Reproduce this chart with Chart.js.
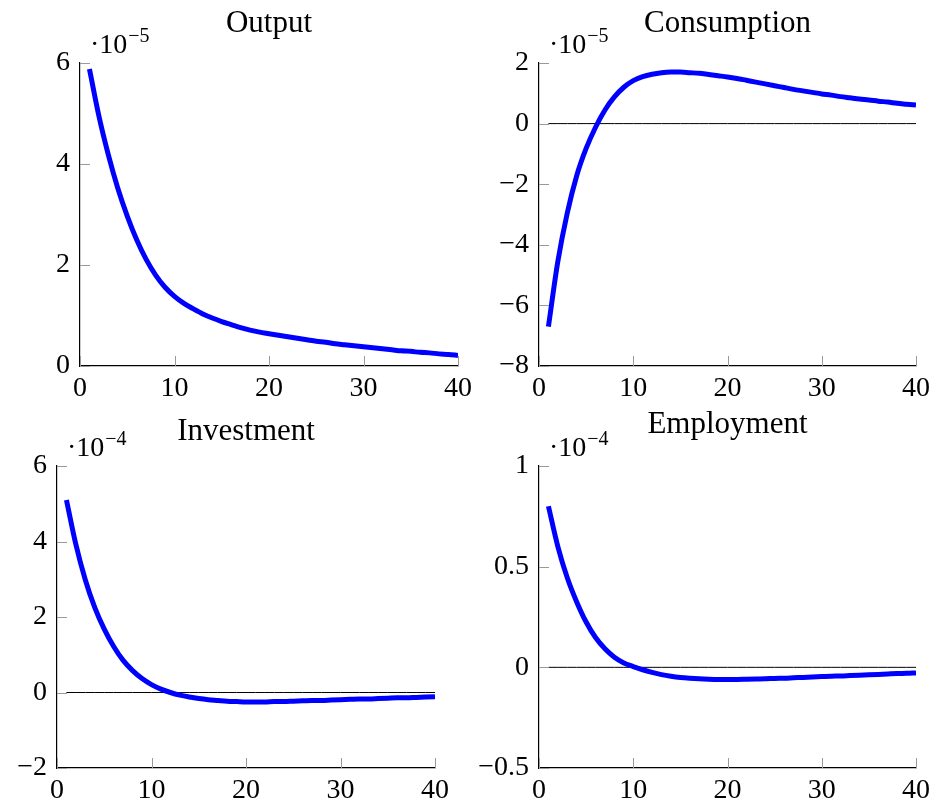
<!DOCTYPE html>
<html>
<head>
<meta charset="utf-8">
<script src="https://cdn.jsdelivr.net/npm/chart.js@4.4.1/dist/chart.umd.min.js"></script>
<style>
  body { margin: 0; background: #fff; width: 936px; height: 804px; overflow: hidden; }
  canvas { position: absolute; }
</style>
</head>
<body>
<canvas id="output"></canvas>
<canvas id="consumption"></canvas>
<canvas id="investment"></canvas>
<canvas id="employment"></canvas>
<script>
const periods = [1, 2, 3, 4, 5, 6, 7, 8, 9, 10, 11, 12, 13, 14, 15, 16, 17, 18, 19, 20,
  21, 22, 23, 24, 25, 26, 27, 28, 29, 30, 31, 32, 33, 34, 35, 36, 37, 38, 39, 40];

// values as shown on each axis (output/consumption in 1e-5, investment/employment in 1e-4)
const output = [5.88, 4.95, 4.18, 3.52, 2.97, 2.50, 2.11, 1.80, 1.56, 1.38,
  1.24, 1.13, 1.03, 0.95, 0.88, 0.82, 0.76, 0.71, 0.67, 0.64,
  0.61, 0.58, 0.55, 0.52, 0.49, 0.47, 0.44, 0.42, 0.40, 0.38,
  0.36, 0.34, 0.32, 0.30, 0.29, 0.27, 0.26, 0.24, 0.23, 0.21];

const consumption = [-6.70, -4.55, -2.95, -1.72, -0.82, -0.12, 0.45, 0.88, 1.20, 1.42,
  1.55, 1.63, 1.68, 1.70, 1.70, 1.68, 1.66, 1.62, 1.58, 1.54,
  1.49, 1.43, 1.37, 1.31, 1.25, 1.19, 1.13, 1.08, 1.03, 0.98,
  0.94, 0.89, 0.85, 0.81, 0.78, 0.74, 0.71, 0.67, 0.64, 0.61];

const investment = [5.10, 3.92, 2.98, 2.25, 1.68, 1.22, 0.85, 0.58, 0.37, 0.21,
  0.09, 0.00, -0.07, -0.12, -0.16, -0.19, -0.21, -0.23, -0.24, -0.25,
  -0.25, -0.25, -0.24, -0.24, -0.23, -0.22, -0.21, -0.21, -0.20, -0.19,
  -0.18, -0.17, -0.17, -0.16, -0.15, -0.14, -0.14, -0.13, -0.12, -0.11];

const employment = [0.80, 0.60, 0.445, 0.325, 0.225, 0.148, 0.092, 0.05, 0.022, 0.004,
  -0.012, -0.025, -0.036, -0.044, -0.050, -0.054, -0.057, -0.059, -0.060, -0.060,
  -0.060, -0.059, -0.058, -0.057, -0.055, -0.054, -0.052, -0.050, -0.048, -0.046,
  -0.044, -0.043, -0.041, -0.039, -0.037, -0.035, -0.033, -0.031, -0.030, -0.028];

const xTicks = { min: 0, max: 40, step: 10 };

const FONT = "'Liberation Serif', 'Times New Roman', serif";

const minus = (value) => value < 0 ? '\u2212' + Math.abs(value) : String(value);

/* pgfplots style: short grey ticks pointing into the plot */
const innerTicks = {
  id: 'innerTicks',
  afterDatasetsDraw(chart) {
    const { ctx, chartArea, scales: { x, y } } = chart;
    ctx.save();
    ctx.strokeStyle = '#9a9a9a';
    ctx.lineWidth = 1;
    ctx.beginPath();
    for (const tick of y.ticks) {
      const py = Math.round(y.getPixelForValue(tick.value)) + 0.5;
      ctx.moveTo(chartArea.left, py);
      ctx.lineTo(chartArea.left + 10, py);
    }
    for (const tick of x.ticks) {
      const px = Math.round(x.getPixelForValue(tick.value)) + 0.5;
      ctx.moveTo(px, chartArea.bottom);
      ctx.lineTo(px, chartArea.bottom - 10);
    }
    ctx.stroke();
    ctx.restore();
  }
};

/* title above the plot and the ·10^n multiplier at the top of the y axis */
const captions = {
  id: 'captions',
  afterDraw(chart, args, opts) {
    const { ctx, chartArea } = chart;
    ctx.save();
    ctx.fillStyle = '#000';
    ctx.textBaseline = 'alphabetic';

    ctx.font = '31px ' + FONT;
    ctx.textAlign = 'center';
    ctx.fillText(opts.title, (chartArea.left + chartArea.right) / 2, chartArea.top - opts.titleGap);

    ctx.font = '28px ' + FONT;
    ctx.textAlign = 'left';
    let left = chartArea.left + 10;
    let base = chartArea.top - 10;
    ctx.fillText('\u00b710', left, base);
    left += ctx.measureText('\u00b710').width + 1;
    ctx.font = '20px ' + FONT;
    ctx.fillText(minus(opts.exponent), left, base - 11);
    ctx.restore();
  }
};

function panel(id, box, plot, series, axis, caption) {
  const canvas = document.getElementById(id);
  canvas.width = box.width;
  canvas.height = box.height;
  canvas.style.left = box.left + 'px';
  canvas.style.top = box.top + 'px';

  const datasets = [{
    data: periods.map((p, i) => ({ x: p, y: series[i] })),
    borderColor: '#0000ff',
    borderWidth: 5,
    borderCapStyle: 'butt',
    pointRadius: 0,
    cubicInterpolationMode: 'monotone',
    order: 1,
  }];

  if (axis.zeroLine) {
    datasets.push({
      data: periods.map((p) => ({ x: p, y: 0 })),
      borderColor: '#000',
      borderWidth: 1,
      pointRadius: 0,
      order: 2,
    });
  }

  const tickFont = { family: FONT, size: 28 };

  return new Chart(canvas, {
    type: 'line',
    data: { datasets },
    plugins: [innerTicks, captions],
    options: {
      responsive: false,
      animation: false,
      devicePixelRatio: 1,
      events: [],
      layout: {
        padding: { left: 0, top: plot.top - box.top, right: box.left + box.width - plot.right, bottom: 0 }
      },
      scales: {
        x: {
          type: 'linear',
          min: xTicks.min,
          max: xTicks.max,
          grid: { display: false, drawTicks: false },
          border: { display: true, color: '#000', width: 1.2 },
          ticks: {
            stepSize: xTicks.step, autoSkip: false, maxRotation: 0,
            padding: 6, color: '#000', font: tickFont,
          },
          afterFit: (scale) => { scale.height = box.top + box.height - plot.bottom; },
        },
        y: {
          min: axis.min,
          max: axis.max,
          grid: { display: false, drawTicks: false },
          border: { display: true, color: '#000', width: 1.2 },
          ticks: {
            stepSize: axis.step, autoSkip: false, padding: 10,
            color: '#000', font: tickFont, callback: minus,
          },
          afterFit: (scale) => { scale.width = plot.left - box.left; },
        },
      },
      plugins: {
        legend: { display: false },
        tooltip: { enabled: false },
        captions: caption,
      },
    },
  });
}

panel('output',
  { left: 0, top: 0, width: 490, height: 402 },
  { left: 80, top: 63, right: 458, bottom: 366 },
  output,
  { min: 0, max: 6, step: 2, zeroLine: false },
  { title: 'Output', exponent: -5, titleGap: 31 });

panel('consumption',
  { left: 470, top: 0, width: 466, height: 402 },
  { left: 539, top: 63, right: 917, bottom: 366 },
  consumption,
  { min: -8, max: 2, step: 2, zeroLine: true },
  { title: 'Consumption', exponent: -5, titleGap: 31 });

panel('investment',
  { left: 0, top: 400, width: 490, height: 404 },
  { left: 57, top: 466, right: 435, bottom: 768 },
  investment,
  { min: -2, max: 6, step: 2, zeroLine: true },
  { title: 'Investment', exponent: -4, titleGap: 26 });

panel('employment',
  { left: 470, top: 400, width: 466, height: 404 },
  { left: 539, top: 466, right: 917, bottom: 768 },
  employment,
  { min: -0.5, max: 1, step: 0.5, zeroLine: true },
  { title: 'Employment', exponent: -4, titleGap: 33 });
</script>
</body>
</html>
